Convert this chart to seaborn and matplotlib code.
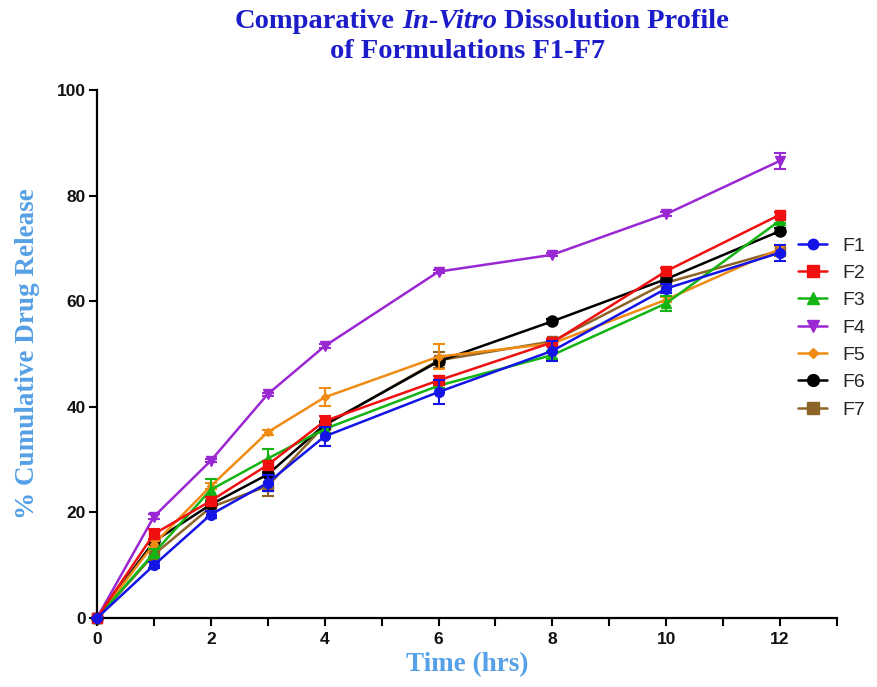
import matplotlib
matplotlib.use("Agg")
import matplotlib.pyplot as plt
from matplotlib.lines import Line2D
import seaborn as sns
import numpy as np

# ---- data ----
time = [0, 1, 2, 3, 4, 6, 8, 10, 12]
formulations = ["F1", "F2", "F3", "F4", "F5", "F6", "F7"]
F1 = [0, 10.0, 19.6, 25.6, 34.4, 42.8, 50.6, 62.4, 69.2]
F2 = [0, 15.9, 22.2, 29.0, 37.3, 45.0, 52.2, 65.7, 76.4]
F3 = [0, 12.3, 24.3, 30.2, 35.8, 44.0, 49.8, 59.6, 75.3]
F4 = [0, 19.2, 29.8, 42.4, 51.5, 65.6, 68.8, 76.5, 86.6]
F5 = [0, 14.0, 25.0, 35.2, 41.8, 49.5, 52.0, 60.3, 69.9]
F6 = [0, 14.5, 21.5, 27.2, 36.6, 48.6, 56.2, 64.2, 73.3]
F7 = [0, 12.0, 21.0, 25.0, 36.5, 48.8, 52.4, 63.5, 69.6]
F1_sd = [0, 0.6, 0.6, 1.5, 1.8, 2.3, 1.9, 0.8, 1.5]
F2_sd = [0, 1.0, 0.8, 0.8, 1.0, 0.8, 0.6, 0.5, 0.5]
F3_sd = [0, 0.8, 2.0, 1.8, 0.8, 0.5, 0.8, 1.4, 0.5]
F4_sd = [0, 0.5, 0.3, 0.3, 0.3, 0.3, 0.3, 0.3, 1.5]
F5_sd = [0, 0.5, 0.5, 0.5, 1.7, 2.3, 0.5, 0.5, 0.5]
F6_sd = [0, 0.5, 0.5, 0.5, 0.5, 0.5, 0.5, 0.5, 0.5]
F7_sd = [0, 0.5, 0.5, 1.8, 0.8, 1.5, 0.5, 0.5, 1.0]
values = [F1, F2, F3, F4, F5, F6, F7]
sds = [F1_sd, F2_sd, F3_sd, F4_sd, F5_sd, F6_sd, F7_sd]

colors = ["#1414e6", "#f01010", "#14b414", "#9a28d2", "#f08c14", "#000000", "#8c6428"]
markers = ["o", "s", "^", "v", "D", "o", "s"]
msizes = [7, 7.5, 7.5, 7.5, 4.5, 8, 7.5]

sns.set_theme(style="ticks")
plt.rcParams["font.family"] = ["Liberation Sans", "DejaVu Sans"]

fig = plt.figure(figsize=(8.77, 6.87), dpi=100)
ax = fig.add_axes([97/877, 69/687, 740/877, 528/687])

handles = []
n = len(formulations)
for i in range(n - 1, -1, -1):
    name, vals, sd = formulations[i], values[i], sds[i]
    c, m, ms = colors[i], markers[i], msizes[i]
    ax.errorbar(time, vals, yerr=sd, fmt="none", ecolor=c, elinewidth=1.5,
                capsize=4, capthick=1.5, zorder=3 + (n - i), clip_on=False)
    sns.lineplot(x=time, y=vals, ax=ax, color=c, marker=m, markersize=ms,
                 markeredgecolor=c, markeredgewidth=1, linewidth=1.8,
                 zorder=3 + (n - i), clip_on=False, legend=False)

for i in range(n):
    handles.append(Line2D([0], [0], color=colors[i], marker=markers[i],
                          markersize=msizes[i] + 0.5, markeredgecolor=colors[i],
                          linewidth=1.8))

ax.set_xlim(0, 13)
ax.set_ylim(0, 100)
ax.set_xticks(range(0, 13, 2))
ax.set_xticks(range(1, 14, 2), minor=True)
ax.set_yticks(range(0, 101, 20))
for sp in ["top", "right"]:
    ax.spines[sp].set_visible(False)
for sp in ["left", "bottom"]:
    ax.spines[sp].set_linewidth(1.6)
    ax.spines[sp].set_color("black")
ax.tick_params(axis="both", which="both", direction="out", length=6, width=1.5,
               color="black", labelsize=12.5, pad=2)
ax.tick_params(axis="x", pad=4)
for lab in ax.get_xticklabels() + ax.get_yticklabels():
    lab.set_fontweight("bold")
    lab.set_color("#111111")

label_color = "#55a0e6"
ax.set_xlabel("Time (hrs)", fontsize=19.5, fontweight="bold", color=label_color,
              family="Liberation Serif")
ax.set_ylabel("% Cumulative Drug Release", fontsize=19.5, fontweight="bold",
              color=label_color, family="Liberation Serif")
ax.xaxis.set_label_coords(0.5, -0.065)
ax.yaxis.set_label_coords(-0.077, 0.5)

fig.legend(handles, formulations, loc="upper left",
           bbox_to_anchor=(798/877, 1 - 237/687), frameon=False, fontsize=14,
           handlelength=1.5, handletextpad=0.8, labelspacing=0.5,
           borderpad=0, borderaxespad=0)

# ---- title with mixed styles ----
title_color = "#1c1cc8"
tfs = 20.5
renderer = fig.canvas.get_renderer()

def measure(s, style):
    t = fig.text(0, 0, s, fontsize=tfs, fontweight="bold", style=style,
                 family="Liberation Serif")
    w = t.get_window_extent(renderer).width
    t.remove()
    return w

space_w = measure("a a", "normal") - measure("aa", "normal")

def rich_line(parts, cx_px, cy_px):
    widths = [measure(s, st) for s, st in parts]
    total = sum(widths) + space_w * (len(parts) - 1)
    x = cx_px - total / 2
    W, H = fig.bbox.width, fig.bbox.height
    for (s, st), w in zip(parts, widths):
        fig.text(x / W, 1 - cy_px / H, s, fontsize=tfs, fontweight="bold",
                 style=st, family="Liberation Serif", color=title_color,
                 ha="left", va="center")
        x += w + space_w

rich_line([("Comparative", "normal"), ("In-Vitro", "italic"),
           ("Dissolution Profile", "normal")], 482, 22)
rich_line([("of Formulations F1-F7", "normal")], 468, 51)

fig.savefig("out.png", dpi=100)
